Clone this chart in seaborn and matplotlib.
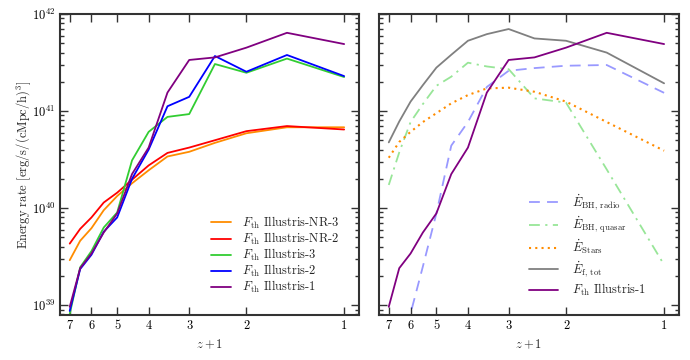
import numpy as np
import pandas as pd
import seaborn as sns
import matplotlib.pyplot as plt

# z+1 sample points
zp1 = [7, 6.5, 6, 5.5, 5, 4.5, 4, 3.5, 3, 2.5, 2, 1.5, 1]

# left panel: thermal energy rate per run
nr3 = [2.9e39, 4.6e39, 6.2e39, 9.5e39, 1.33e40, 1.8e40, 2.45e40, 3.4e40, 3.8e40, 4.7e40, 5.9e40, 6.8e40, 6.8e40]
nr2 = [4.3e39, 6.1e39, 8.0e39, 1.14e40, 1.44e40, 1.96e40, 2.75e40, 3.7e40, 4.2e40, 5.0e40, 6.2e40, 7.0e40, 6.45e40]
ill3 = [8.1e38, 2.45e39, 3.6e39, 6.3e39, 9.0e39, 3.1e40, 6.1e40, 8.7e40, 9.3e40, 3.05e41, 2.48e41, 3.47e41, 2.24e41]
ill2 = [8.7e38, 2.35e39, 3.3e39, 5.7e39, 8.0e39, 2.0e40, 4.0e40, 1.12e41, 1.4e41, 3.69e41, 2.54e41, 3.78e41, 2.29e41]
ill1 = [9.6e38, 2.4e39, 3.4e39, 5.6e39, 8.8e39, 2.24e40, 4.2e40, 1.55e41, 3.36e41, 3.57e41, 4.5e41, 6.4e41, 4.9e41]

# right panel: feedback energy injection rates
bh_radio = [1.0e38, 3.0e38, 8.2e38, 2.5e39, 8.8e39, 4.4e40, 7.7e40, 1.77e41, 2.6e41, 2.77e41, 2.93e41, 2.98e41, 1.54e41]
bh_quasar = [1.73e40, 3.75e40, 7.7e40, 1.18e41, 1.82e41, 2.26e41, 3.15e41, 2.88e41, 2.7e41, 1.35e41, 1.22e41, 2.5e40, 2.6e39]
stars = [3.3e40, 4.8e40, 6.1e40, 7.7e40, 9.5e40, 1.2e41, 1.46e41, 1.71e41, 1.74e41, 1.58e41, 1.25e41, 7.7e40, 3.9e40]
f_tot = [4.75e40, 7.8e40, 1.25e41, 1.85e41, 2.8e41, 3.8e41, 5.3e41, 6.2e41, 7.0e41, 5.6e41, 5.3e41, 4.0e41, 1.93e41]

xticks = [7, 6, 5, 4, 3, 2, 1]

sns.set_style('ticks')
plt.rcParams['font.family'] = ['cmr10', 'DejaVu Serif']
plt.rcParams['mathtext.fontset'] = 'cm'
plt.rcParams['axes.formatter.use_mathtext'] = True
plt.rcParams['font.size'] = 9
plt.rcParams['axes.unicode_minus'] = False

fig = plt.figure(figsize=(6.9, 3.6), dpi=100)
ax1 = fig.add_axes([60/690, 45/360, 299/690, 301/360])
ax2 = fig.add_axes([379/690, 45/360, 300/690, 301/360], sharey=ax1)

left_series = [
    (nr3, 'darkorange', r'$F_{\rm th}$ Illustris-NR-3'),
    (nr2, 'red', r'$F_{\rm th}$ Illustris-NR-2'),
    (ill3, 'limegreen', r'$F_{\rm th}$ Illustris-3'),
    (ill2, 'blue', r'$F_{\rm th}$ Illustris-2'),
    (ill1, 'purple', r'$F_{\rm th}$ Illustris-1'),
]
for vals, col, lab in left_series:
    sns.lineplot(x=zp1, y=vals, ax=ax1, color=col, lw=1.3, label=lab, sort=False)

sns.lineplot(x=zp1, y=bh_radio, ax=ax2, color='blue', alpha=0.4, lw=1.3, dashes=(6, 4),
             label=r'$\dot{E}_{\rm BH,\,radio}$', sort=False)
sns.lineplot(x=zp1, y=bh_quasar, ax=ax2, color='limegreen', alpha=0.5, lw=1.3, dashes=(6, 3, 1.2, 3),
             label=r'$\dot{E}_{\rm BH,\,quasar}$', sort=False)
sns.lineplot(x=zp1, y=stars, ax=ax2, color='darkorange', lw=1.5, dashes=(1, 2),
             label=r'$\dot{E}_{\rm Stars}$', sort=False)
sns.lineplot(x=zp1, y=f_tot, ax=ax2, color='grey', lw=1.3,
             label=r'$\dot{E}_{\mathrm{f},\,\mathrm{tot}}$', sort=False)
sns.lineplot(x=zp1, y=ill1, ax=ax2, color='purple', lw=1.3,
             label=r'$F_{\rm th}$ Illustris-1', sort=False)

for ax in (ax1, ax2):
    ax.set_xscale('log')
    ax.set_yscale('log')
    ax.set_xlim(7.5, 0.9)
    ax.set_ylim(7.9e38, 1e42)
    ax.set_xticks(xticks)
    ax.set_xticklabels([str(t) for t in xticks])
    ax.xaxis.set_minor_locator(plt.NullLocator())
    ax.set_xlabel(r'$z+1$')
    ax.tick_params(which='both', direction='in', top=True, right=True, colors='#333333',
                   labelcolor='black', width=1.0)
    ax.tick_params(which='major', length=6)
    ax.tick_params(which='minor', length=3)
    for sp in ax.spines.values():
        sp.set_linewidth(1.5)
        sp.set_color('#333333')

ax1.set_ylabel(r'Energy rate [erg/s/(cMpc/h)$^3$]', labelpad=-1)
ax2.set_ylabel('')
ax2.tick_params(labelleft=False)

ax1.legend(loc='lower right', bbox_to_anchor=(0.935, 0.065), frameon=False, handlelength=1.6,
           borderpad=0, borderaxespad=0, labelspacing=0.0, handletextpad=0.9)
ax2.legend(loc='lower right', bbox_to_anchor=(0.89, 0.055), frameon=False, handlelength=2.3,
           borderpad=0, borderaxespad=0, labelspacing=0.25, handletextpad=1.1)

plt.savefig('out.png', dpi=100)
